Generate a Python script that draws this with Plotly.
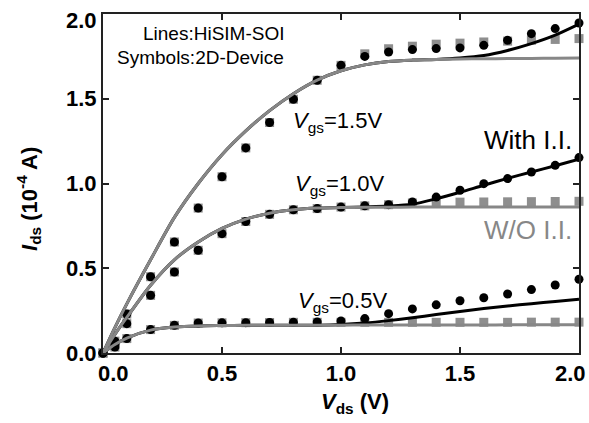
import plotly.graph_objects as go

# ---- data ----
vds_pts = [0.0, 0.05, 0.1, 0.2, 0.3, 0.4, 0.5, 0.6, 0.7, 0.8, 0.9, 1.0,
           1.1, 1.2, 1.3, 1.4, 1.5, 1.6, 1.7, 1.8, 1.9, 2.0]

# 2D-device, with impact ionization (black circles)
dev_ii_15 = [0.0, 0.07, 0.23, 0.45, 0.655, 0.855, 1.04, 1.21, 1.36, 1.497, 1.609, 1.697,
             1.75, 1.776, 1.79, 1.796, 1.80, 1.815, 1.845, 1.884, 1.914, 1.947]
dev_ii_10 = [0.0, 0.05, 0.173, 0.34, 0.478, 0.606, 0.704, 0.776, 0.818, 0.845, 0.852, 0.861,
             0.868, 0.875, 0.891, 0.92, 0.96, 0.999, 1.029, 1.068, 1.107, 1.153]
dev_ii_05 = [0.0, 0.035, 0.085, 0.138, 0.163, 0.177, 0.178, 0.179, 0.18, 0.181, 0.183, 0.189,
             0.203, 0.232, 0.26, 0.284, 0.308, 0.326, 0.348, 0.374, 0.401, 0.435]

# 2D-device, without impact ionization (gray squares)
dev_no_15 = [0.0, 0.07, 0.23, 0.45, 0.655, 0.855, 1.04, 1.21, 1.36, 1.497, 1.609, 1.697,
             1.765, 1.795, 1.81, 1.822, 1.828, 1.835, 1.84, 1.845, 1.85, 1.855]
dev_no_10 = [0.0, 0.05, 0.173, 0.34, 0.478, 0.606, 0.704, 0.776, 0.818, 0.845, 0.852, 0.861,
             0.868, 0.875, 0.885, 0.888, 0.89, 0.891, 0.892, 0.893, 0.894, 0.895]
dev_no_05 = [0.0, 0.035, 0.085, 0.138, 0.163, 0.177, 0.178, 0.179, 0.18, 0.181, 0.181, 0.181,
             0.181, 0.181, 0.181, 0.181, 0.181, 0.181, 0.181, 0.182, 0.182, 0.182]

vds_line = vds_pts

# HiSIM-SOI without impact ionization (gray lines)
sim_no_15 = [0.0, 0.15, 0.29, 0.55, 0.80, 1.0, 1.17, 1.31, 1.43, 1.53, 1.61, 1.665,
             1.70, 1.72, 1.728, 1.732, 1.735, 1.736, 1.737, 1.738, 1.739, 1.74]
sim_no_10 = [0.0, 0.11, 0.21, 0.40, 0.55, 0.655, 0.735, 0.79, 0.825, 0.845, 0.855, 0.858,
             0.86, 0.86, 0.861, 0.861, 0.861, 0.862, 0.862, 0.862, 0.862, 0.862]
sim_no_05 = [0.0, 0.05, 0.088, 0.135, 0.153, 0.16, 0.162, 0.163, 0.163, 0.164, 0.164, 0.164,
             0.165, 0.165, 0.165, 0.165, 0.165, 0.165, 0.166, 0.166, 0.166, 0.166]

# HiSIM-SOI with impact ionization (black lines)
sim_ii_15 = [0.0, 0.15, 0.29, 0.55, 0.80, 1.0, 1.17, 1.31, 1.43, 1.53, 1.61, 1.665,
             1.70, 1.72, 1.728, 1.732, 1.74, 1.755, 1.785, 1.825, 1.875, 1.94]
sim_ii_10 = [0.0, 0.11, 0.21, 0.40, 0.55, 0.655, 0.735, 0.79, 0.825, 0.845, 0.855, 0.858,
             0.862, 0.867, 0.878, 0.91, 0.948, 0.99, 1.03, 1.068, 1.105, 1.143]
sim_ii_05 = [0.0, 0.05, 0.088, 0.135, 0.153, 0.16, 0.162, 0.163, 0.163, 0.164, 0.164, 0.168,
             0.177, 0.191, 0.208, 0.227, 0.245, 0.262, 0.277, 0.291, 0.304, 0.317]

tick_vals = [0.0, 0.5, 1.0, 1.5, 2.0]
x_tick_text = ["", "0.5", "1.0", "1.5", ""]
y_tick_text = ["0.0", "0.5", "1.0", "1.5", ""]

GRAY = "#878787"
SQ_GRAY = "#8e8e8e"
FONT = "Liberation Sans, Arial, sans-serif"
TICK_SIZE = 22

fig = go.Figure()

for ys in (dev_no_15, dev_no_10, dev_no_05):
    fig.add_trace(go.Scatter(x=vds_pts, y=ys, mode="markers", cliponaxis=False,
                             marker=dict(symbol="square", size=9, color=SQ_GRAY),
                             showlegend=False, hoverinfo="skip"))
for ys in (dev_ii_15, dev_ii_10, dev_ii_05):
    fig.add_trace(go.Scatter(x=vds_pts, y=ys, mode="markers", cliponaxis=False,
                             marker=dict(symbol="circle", size=9, color="black"),
                             showlegend=False, hoverinfo="skip"))
for ys in (sim_ii_15, sim_ii_10, sim_ii_05):
    fig.add_trace(go.Scatter(x=vds_line, y=ys, mode="lines",
                             line=dict(color="black", width=3, shape="spline", smoothing=0.8),
                             showlegend=False, hoverinfo="skip"))
for ys in (sim_no_15, sim_no_10, sim_no_05):
    fig.add_trace(go.Scatter(x=vds_line, y=ys, mode="lines",
                             line=dict(color=GRAY, width=3, shape="spline", smoothing=0.8),
                             showlegend=False, hoverinfo="skip"))

axis_common = dict(
    showline=True, linecolor="#222", linewidth=2, mirror="ticks",
    ticks="inside", ticklen=6, tickwidth=1.5, tickcolor="#222",
    showgrid=False, zeroline=False,
    tickfont=dict(family=FONT, size=TICK_SIZE, color="black", weight="bold"),
    tickvals=tick_vals,
)

fig.update_layout(
    width=589, height=423,
    margin=dict(l=103, r=8, t=14, b=70),
    paper_bgcolor="white", plot_bgcolor="white",
    font=dict(family=FONT, color="black"),
    xaxis=dict(range=[0, 2.0], ticktext=x_tick_text, **axis_common),
    yaxis=dict(range=[0, 2.0], ticktext=y_tick_text, **axis_common),
)

anns = [
    # edge tick labels shifted inward as in the reference
    dict(x=0.0, y=0, xref="x", yref="paper", text="<b>0.0</b>", xanchor="center", yanchor="top",
         xshift=10, yshift=-6, font=dict(size=TICK_SIZE)),
    dict(x=2.0, y=0, xref="x", yref="paper", text="<b>2.0</b>", xanchor="center", yanchor="top",
         xshift=-9, yshift=-6, font=dict(size=TICK_SIZE)),
    dict(x=0, y=2.0, xref="paper", yref="y", text="<b>2.0</b>", xanchor="right", yanchor="middle",
         xshift=-4, yshift=-6, font=dict(size=TICK_SIZE)),
    # axis titles
    dict(x=0.53, y=-0.10, xref="paper", yref="paper",
         text="<b><i>V</i><sub>ds</sub> (V)</b>", xanchor="center", yanchor="top",
         font=dict(size=22)),
    dict(x=-0.155, y=0.455, xref="paper", yref="paper", textangle=-90,
         text="<b><i>I</i><sub>ds</sub> (10<sup>-4</sup> A)</b>", xanchor="center", yanchor="middle",
         font=dict(size=22)),
    # legend texts
    dict(x=0.77, y=1.886, text="Lines:HiSIM-SOI", xanchor="right", yanchor="middle",
         font=dict(size=19)),
    dict(x=0.77, y=1.745, text="Symbols:2D-Device", xanchor="right", yanchor="middle",
         font=dict(size=19)),
    # Vgs labels
    dict(x=0.79, y=1.36, text="<i>V</i><sub>gs</sub>=1.5V", xanchor="left", yanchor="middle",
         font=dict(size=22)),
    dict(x=0.80, y=0.99, text="<i>V</i><sub>gs</sub>=1.0V", xanchor="left", yanchor="middle",
         font=dict(size=22)),
    dict(x=0.81, y=0.30, text="<i>V</i><sub>gs</sub>=0.5V", xanchor="left", yanchor="middle",
         font=dict(size=22)),
    dict(x=1.98, y=1.254, text="With I.I.", xanchor="right", yanchor="middle",
         font=dict(size=26)),
    dict(x=1.98, y=0.724, text="W/O I.I.", xanchor="right", yanchor="middle",
         font=dict(size=26, color=GRAY)),
]
for a in anns:
    a.setdefault("xref", "x")
    a.setdefault("yref", "y")
    a["showarrow"] = False
    f = a.get("font", {})
    f.setdefault("family", FONT)
    f.setdefault("color", "black")
    a["font"] = f
    fig.add_annotation(**a)

fig.write_html("out.html", config={"displayModeBar": False},
               post_script="document.body.style.margin='0';document.body.style.padding='0';")
